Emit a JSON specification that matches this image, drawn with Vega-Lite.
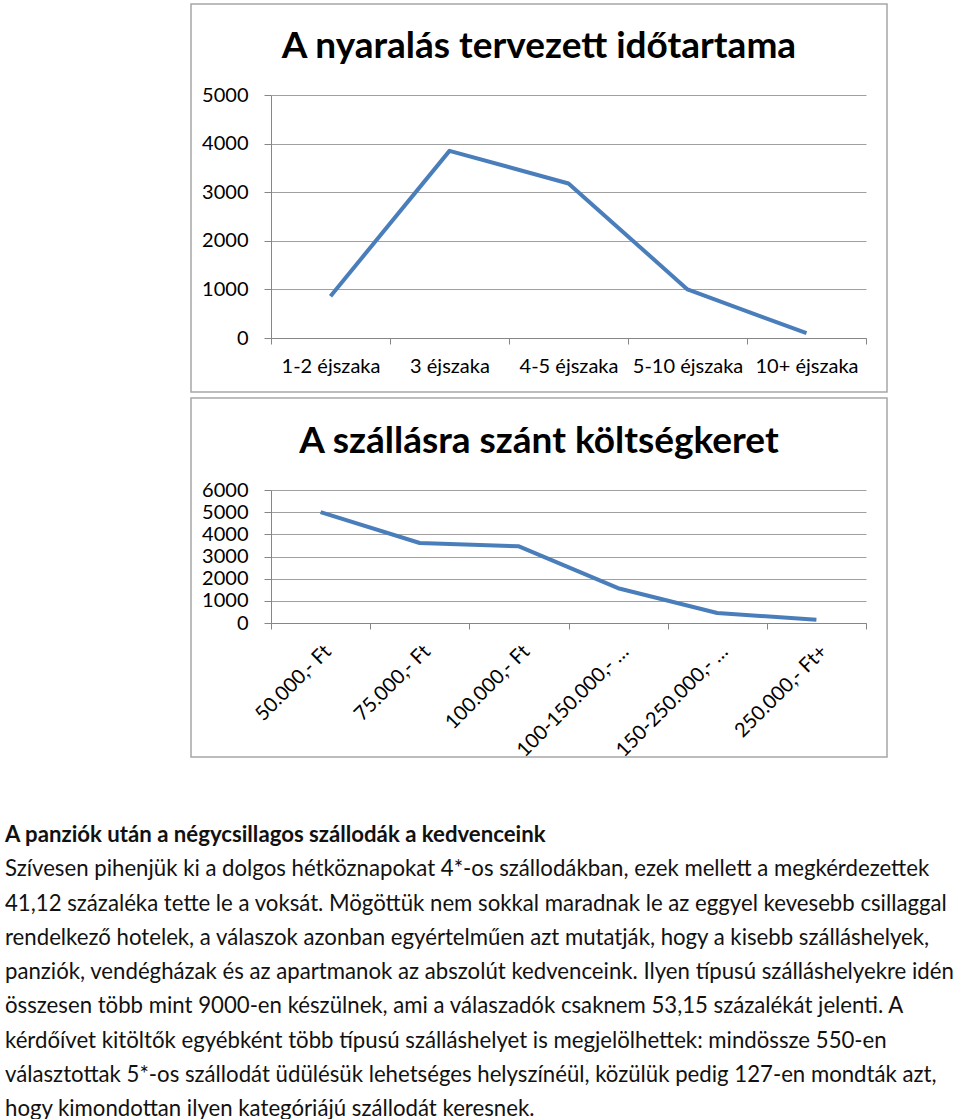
{
  "$schema": "https://vega.github.io/schema/vega-lite/v6.json",
  "padding": {"left": 5, "top": 3, "right": 0, "bottom": 0},
  "background": "white",
  "config": {"view": {"stroke": null}, "font": "Lato"},
  "spacing": 63,
  "vconcat": [
    {
      "bounds": "flush",
      "spacing": 0,
      "hconcat": [
        {"width": 186, "height": 10, "data": {"values": [{}]}, "mark": {"type": "text", "text": ""}},
        {
          "bounds": "flush",
          "spacing": 6,
          "vconcat": [
            {
              "width": 696,
              "height": 388,
              "view": {"stroke": "#a6a6a6", "strokeWidth": 1.5},
              "title": {"text": "A nyaralás tervezett időtartama", "font": "Lato", "fontSize": 37, "fontWeight": "bold", "color": "#000000", "anchor": "middle", "offset": -62},
              "data": {"values": [
                {"idotartam": "1-2 éjszaka", "valasz": 860},
                {"idotartam": "3 éjszaka", "valasz": 3850},
                {"idotartam": "4-5 éjszaka", "valasz": 3180},
                {"idotartam": "5-10 éjszaka", "valasz": 1000},
                {"idotartam": "10+ éjszaka", "valasz": 100}
              ]},
              "mark": {"type": "line", "color": "#4a7ebb", "strokeWidth": 4, "strokeJoin": "round"},
              "encoding": {
                "x": {"field": "idotartam", "type": "nominal", "sort": null, "bandPosition": 0.5,
                  "scale": {"type": "band", "range": [80, 675], "paddingInner": 0, "paddingOuter": 0},
                  "axis": {"title": null, "labelAngle": 0, "tickBand": "extent", "offset": -54, "tickSize": 6, "labelPadding": 12, "labelFontSize": 20, "labelFont": "Lato", "labelColor": "#000000", "domainColor": "#868686", "tickColor": "#868686", "grid": false, "labelLimit": 200}},
                "y": {"field": "valasz", "type": "quantitative",
                  "scale": {"domain": [0, 5000], "range": [334, 91], "nice": false, "zero": true},
                  "axis": {"title": null, "values": [0, 1000, 2000, 3000, 4000, 5000], "format": "d", "offset": -80, "grid": true, "gridColor": "#a0a0a0", "domainColor": "#868686", "tickColor": "#868686", "tickSize": 7, "labelPadding": 16, "labelFontSize": 20, "labelFont": "Lato", "labelColor": "#000000"}}
              }
            },
            {
              "width": 696,
              "height": 359,
              "view": {"stroke": "#a6a6a6", "strokeWidth": 1.5},
              "title": {"text": "A szállásra szánt költségkeret", "font": "Lato", "fontSize": 37, "fontWeight": "bold", "color": "#000000", "anchor": "middle", "offset": -63},
              "data": {"values": [
                {"keret": "50.000,- Ft", "valasz": 5000},
                {"keret": "75.000,- Ft", "valasz": 3610},
                {"keret": "100.000,- Ft", "valasz": 3460},
                {"keret": "100-150.000,- Ft", "valasz": 1570},
                {"keret": "150-250.000,- Ft", "valasz": 450},
                {"keret": "250.000,- Ft+", "valasz": 150}
              ]},
              "mark": {"type": "line", "color": "#4a7ebb", "strokeWidth": 4, "strokeJoin": "round"},
              "encoding": {
                "x": {"field": "keret", "type": "nominal", "sort": null, "bandPosition": 0.5,
                  "scale": {"type": "band", "range": [80, 675], "paddingInner": 0, "paddingOuter": 0},
                  "axis": {"title": null, "labelAngle": -45, "tickBand": "extent", "offset": -134, "tickSize": 6, "labelPadding": 12, "labelFontSize": 20, "labelFont": "Lato", "labelColor": "#000000", "domainColor": "#868686", "tickColor": "#868686", "grid": false, "labelLimit": 150}},
                "y": {"field": "valasz", "type": "quantitative",
                  "scale": {"domain": [0, 6000], "range": [225, 92], "nice": false, "zero": true},
                  "axis": {"title": null, "values": [0, 1000, 2000, 3000, 4000, 5000, 6000], "format": "d", "offset": -80, "grid": true, "gridColor": "#a0a0a0", "domainColor": "#868686", "tickColor": "#868686", "tickSize": 7, "labelPadding": 16, "labelFontSize": 20, "labelFont": "Lato", "labelColor": "#000000", "labelOverlap": false}}
              }
            }
          ]
        }
      ]
    },
    {
      "width": 950,
      "height": 274,
      "data": {"values": [
        {"sor": 1, "kiemelt": true, "szoveg": "A panziók után a négycsillagos szállodák a kedvenceink"},
        {"sor": 2, "kiemelt": false, "szoveg": "Szívesen pihenjük ki a dolgos hétköznapokat 4*-os szállodákban, ezek mellett a megkérdezettek"},
        {"sor": 3, "kiemelt": false, "szoveg": "41,12 százaléka tette le a voksát. Mögöttük nem sokkal maradnak le az eggyel kevesebb csillaggal"},
        {"sor": 4, "kiemelt": false, "szoveg": "rendelkező hotelek, a válaszok azonban egyértelműen azt mutatják, hogy a kisebb szálláshelyek,"},
        {"sor": 5, "kiemelt": false, "szoveg": "panziók, vendégházak és az apartmanok az abszolút kedvenceink. Ilyen típusú szálláshelyekre idén"},
        {"sor": 6, "kiemelt": false, "szoveg": "összesen több mint 9000-en készülnek, ami a válaszadók csaknem 53,15 százalékát jelenti. A"},
        {"sor": 7, "kiemelt": false, "szoveg": "kérdőívet kitöltők egyébként több típusú szálláshelyet is megjelölhettek: mindössze 550-en"},
        {"sor": 8, "kiemelt": false, "szoveg": "választottak 5*-os szállodát üdülésük lehetséges helyszínéül, közülük pedig 127-en mondták azt,"},
        {"sor": 9, "kiemelt": false, "szoveg": "hogy kimondottan ilyen kategóriájú szállodát keresnek."}
      ]},
      "encoding": {
        "x": {"datum": 0, "type": "quantitative", "scale": {"domain": [0, 1]}, "axis": null},
        "y": {"field": "sor", "type": "ordinal", "scale": {"type": "point", "padding": 0}, "axis": null},
        "text": {"field": "szoveg"}
      },
      "layer": [
        {"transform": [{"filter": "datum.kiemelt"}], "mark": {"type": "text", "align": "left", "baseline": "middle", "font": "Lato", "fontSize": 22.2, "fontWeight": "bold", "color": "#111111"}},
        {"transform": [{"filter": "!datum.kiemelt"}], "mark": {"type": "text", "align": "left", "baseline": "middle", "font": "Lato", "fontSize": 22.2, "color": "#111111"}}
      ]
    }
  ]
}
